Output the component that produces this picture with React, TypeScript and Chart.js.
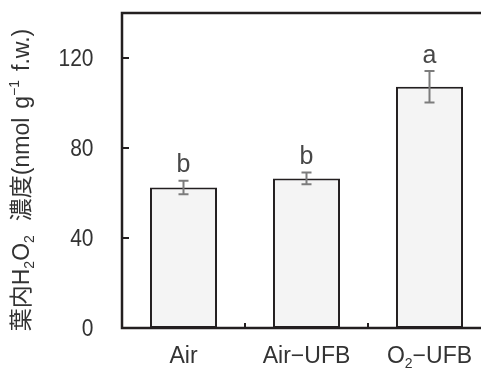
import React, { useEffect, useRef } from "react";
import { Chart, registerables } from "chart.js";
Chart.register(...registerables);

const categories = ["Air", "Air−UFB", "O2−UFB"];
const values = [62.5, 66.5, 107.2];
const errors = [3.0, 2.6, 7.0];
const letters = ["b", "b", "a"];
const yTicks = [0, 40, 80, 120];
const yMax = 140;

const FONT = "'Liberation Sans', 'Noto Sans CJK JP', sans-serif";
const AXIS = "#231f20";
const TEXT = "#333333";

type Seg = { t: string; mode?: "sub" | "sup"; gap?: number };

function drawRich(
  ctx: CanvasRenderingContext2D,
  segs: Seg[],
  cx: number,
  cy: number,
  size: number,
  small: number
) {
  const fontOf = (s: Seg) => `${s.mode ? small : size}px ${FONT}`;
  let total = 0;
  const widths = segs.map((s) => {
    if (s.gap) {
      total += s.gap;
      return s.gap;
    }
    ctx.font = fontOf(s);
    const w = ctx.measureText(s.t).width;
    total += w;
    return w;
  });
  let x = cx - total / 2;
  ctx.textAlign = "left";
  ctx.textBaseline = "middle";
  segs.forEach((s, i) => {
    if (!s.gap) {
      ctx.font = fontOf(s);
      const dy = s.mode === "sub" ? size * 0.3 : s.mode === "sup" ? -size * 0.32 : 0;
      ctx.fillText(s.t, x, cy + dy);
    }
    x += widths[i];
  });
}

const customPlugin = {
  id: "custom",
  afterDatasetsDraw(chart: any) {
    const ctx: CanvasRenderingContext2D = chart.ctx;
    const { left, right, top, bottom } = chart.chartArea;
    const xs = chart.scales.x;
    const ys = chart.scales.y;
    ctx.save();
    // error bars and letters
    values.forEach((v, i) => {
      const x = xs.getPixelForValue(i);
      const yt = ys.getPixelForValue(v + errors[i]);
      const yb = ys.getPixelForValue(v - errors[i]);
      ctx.strokeStyle = "#7c7c7c";
      ctx.lineWidth = 2;
      ctx.beginPath();
      ctx.moveTo(x, yt);
      ctx.lineTo(x, yb);
      ctx.moveTo(x - 5, yt);
      ctx.lineTo(x + 5, yt);
      ctx.moveTo(x - 5, yb);
      ctx.lineTo(x + 5, yb);
      ctx.stroke();
      ctx.fillStyle = "#484848";
      ctx.font = `25px ${FONT}`;
      ctx.textAlign = "center";
      ctx.textBaseline = "alphabetic";
      ctx.fillText(letters[i], x, yt - 8.5);
    });
    // frame
    ctx.strokeStyle = AXIS;
    ctx.lineWidth = 2.5;
    ctx.strokeRect(left, top, right - left, bottom - top);
    // y ticks inward
    ctx.lineWidth = 2;
    yTicks.forEach((t) => {
      if (t === 0) return;
      const y = ys.getPixelForValue(t);
      ctx.beginPath();
      ctx.moveTo(left, y);
      ctx.lineTo(left + 7, y);
      ctx.stroke();
    });
    // x boundary ticks
    for (let i = 0; i < categories.length - 1; i++) {
      const x = (xs.getPixelForValue(i) + xs.getPixelForValue(i + 1)) / 2;
      ctx.beginPath();
      ctx.moveTo(x, bottom);
      ctx.lineTo(x, bottom - 5);
      ctx.stroke();
    }
    // y tick labels
    ctx.fillStyle = TEXT;
    yTicks.forEach((t) => {
      const y = ys.getPixelForValue(t);
      ctx.save();
      ctx.translate(93.5, y + 1);
      ctx.scale(0.875, 1);
      ctx.font = `24px ${FONT}`;
      ctx.textAlign = "right";
      ctx.textBaseline = "middle";
      ctx.fillText(String(t), 0, 0);
      ctx.restore();
    });
    // x labels
    categories.forEach((c, i) => {
      const x = xs.getPixelForValue(i);
      let segs: Seg[];
      if (c.startsWith("O2")) segs = [{ t: "O" }, { t: "2", mode: "sub" }, { t: c.slice(2) }];
      else segs = [{ t: c }];
      drawRich(ctx, segs, x, bottom + 29, 23, 14);
    });
    // y title
    ctx.save();
    ctx.translate(23, 180);
    ctx.rotate(-Math.PI / 2);
    ctx.fillStyle = TEXT;
    drawRich(
      ctx,
      [
        { t: "葉内H" },
        { t: "2", mode: "sub" },
        { t: "O" },
        { t: "2", mode: "sub" },
        { t: "", gap: 14 },
        { t: "濃度(nmol" },
        { t: "", gap: 9 },
        { t: "g" },
        { t: "−1", mode: "sup" },
        { t: "", gap: 9 },
        { t: "f.w.)" },
      ],
      0,
      0,
      23,
      14
    );
    ctx.restore();
    ctx.restore();
  },
};

export default function App() {
  const ref = useRef<HTMLCanvasElement | null>(null);
  useEffect(() => {
    if (!ref.current) return;
    const chart = new Chart(ref.current, {
      type: "bar",
      data: {
        labels: categories,
        datasets: [
          {
            data: values,
            backgroundColor: "#f4f4f4",
            borderColor: AXIS,
            borderWidth: 2,
            borderSkipped: false,
            barPercentage: 0.545,
            categoryPercentage: 1,
          },
        ],
      },
      options: {
        responsive: false,
        animation: false,
        devicePixelRatio: 1,
        layout: { padding: { top: 13, right: 9, left: 0, bottom: 0 } },
        plugins: { legend: { display: false }, tooltip: { enabled: false } },
        scales: {
          x: {
            grid: { display: false, drawTicks: false },
            border: { display: false },
            ticks: { display: false },
            afterFit: (s: any) => {
              s.height = 41;
            },
          },
          y: {
            min: 0,
            max: yMax,
            grid: { display: false, drawTicks: false },
            border: { display: false },
            afterBuildTicks: (s: any) => {
              s.ticks = yTicks.map((v) => ({ value: v }));
            },
            ticks: { display: false },
            afterFit: (s: any) => {
              s.width = 122;
            },
          },
        },
      },
      plugins: [customPlugin],
    });
    return () => chart.destroy();
  }, []);
  return (
    <div
      style={{
        position: "fixed",
        left: 0,
        top: 0,
        width: 481,
        height: 369,
        overflow: "hidden",
        background: "#fff",
      }}
    >
      <canvas
        ref={ref}
        width={500}
        height={369}
        style={{ display: "block", width: 500, height: 369 }}
      />
    </div>
  );
}
